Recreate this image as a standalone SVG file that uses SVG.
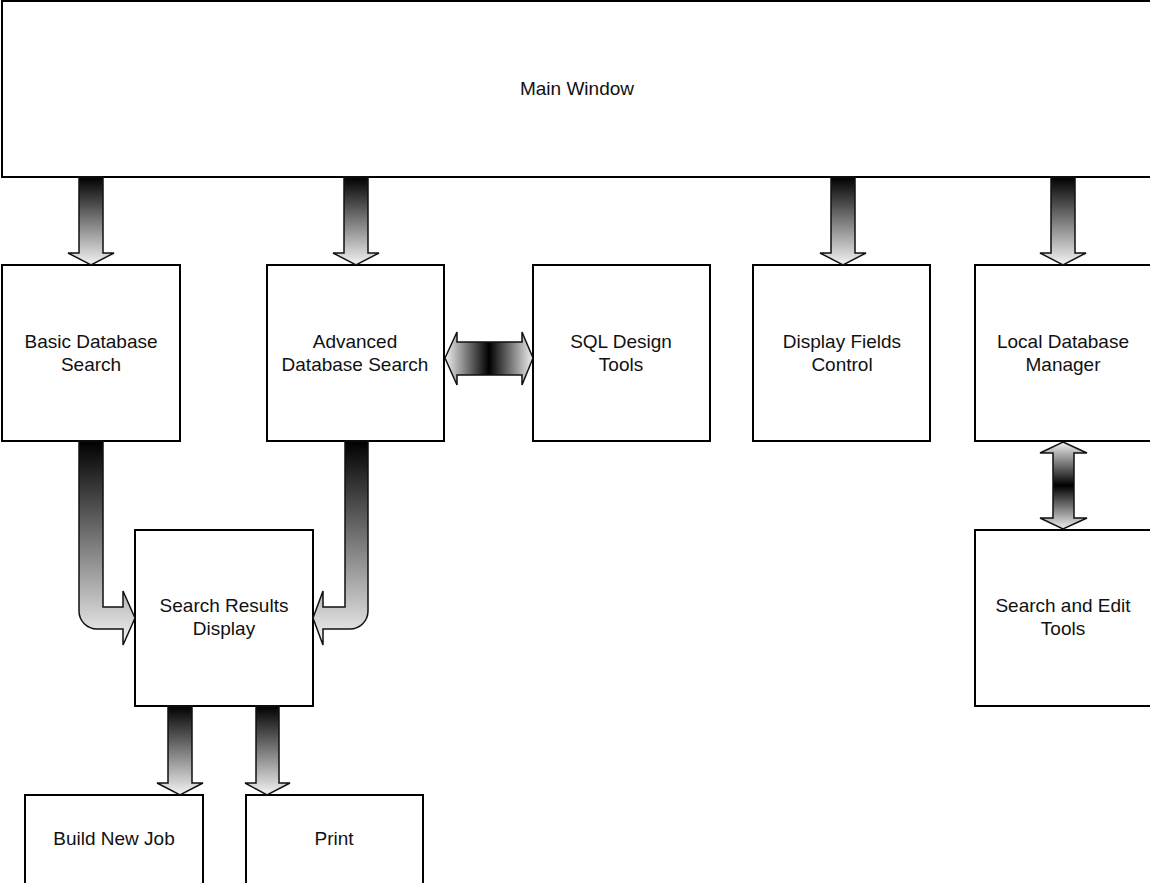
<svg xmlns="http://www.w3.org/2000/svg" width="1150" height="883" viewBox="0 0 1150 883">
<style>
.box{fill:#fff;stroke:#000;stroke-width:2}
.t{font-family:"Liberation Sans",Arial,sans-serif;font-size:19px;fill:#111;text-anchor:middle}
.ad{fill:url(#gDown);stroke:#111;stroke-width:1.5;stroke-linejoin:miter}
.ah{fill:url(#gH);stroke:#111;stroke-width:1.5}
.av{fill:url(#gV);stroke:#111;stroke-width:1.5}
</style>
<defs>
<linearGradient id="gDown" x1="0" y1="0" x2="0" y2="1">
<stop offset="0" stop-color="#000"/>
<stop offset="1" stop-color="#f4f4f4"/>
</linearGradient>
<linearGradient id="gH" x1="0" y1="0" x2="1" y2="0">
<stop offset="0" stop-color="#f0f0f0"/>
<stop offset="0.5" stop-color="#000"/>
<stop offset="1" stop-color="#f0f0f0"/>
</linearGradient>
<linearGradient id="gV" x1="0" y1="0" x2="0" y2="1">
<stop offset="0" stop-color="#f0f0f0"/>
<stop offset="0.5" stop-color="#000"/>
<stop offset="1" stop-color="#f0f0f0"/>
</linearGradient>
</defs>
<rect width="1150" height="883" fill="#fff"/>

<g id="main-window"><rect class="box" x="2" y="1" width="1160" height="176"/><text class="t" x="577" y="95">Main Window</text></g>
<g id="basic-search"><rect class="box" x="2" y="265" width="178" height="176"/><text class="t" x="91" y="348">Basic Database</text><text class="t" x="91" y="371">Search</text></g>
<g id="advanced-search"><rect class="box" x="267" y="265" width="177" height="176"/><text class="t" x="355" y="348">Advanced</text><text class="t" x="355" y="371">Database Search</text></g>
<g id="sql-design"><rect class="box" x="533" y="265" width="177" height="176"/><text class="t" x="621" y="348">SQL Design</text><text class="t" x="621" y="371">Tools</text></g>
<g id="display-fields"><rect class="box" x="753" y="265" width="177" height="176"/><text class="t" x="842" y="348">Display Fields</text><text class="t" x="842" y="371">Control</text></g>
<g id="local-db"><rect class="box" x="975" y="265" width="190" height="176"/><text class="t" x="1063" y="348">Local Database</text><text class="t" x="1063" y="371">Manager</text></g>
<g id="search-edit"><rect class="box" x="975" y="530" width="190" height="176"/><text class="t" x="1063" y="612">Search and Edit</text><text class="t" x="1063" y="635">Tools</text></g>
<g id="search-results"><rect class="box" x="135" y="530" width="178" height="176"/><text class="t" x="224" y="612">Search Results</text><text class="t" x="224" y="635">Display</text></g>
<g id="build-job"><rect class="box" x="25" y="795" width="178" height="100"/><text class="t" x="114" y="845">Build New Job</text></g>
<g id="print"><rect class="box" x="246" y="795" width="177" height="100"/><text class="t" x="334" y="845">Print</text></g>

<g id="connectors">
<path class="ad" d="M79,177 L103,177 L103,253 L114,253 L91,265 L68,253 L79,253 Z"/>
<path class="ad" d="M344,177 L368,177 L368,253 L379,253 L356,265 L333,253 L344,253 Z"/>
<path class="ad" d="M831,177 L855,177 L855,253 L866,253 L843,265 L820,253 L831,253 Z"/>
<path class="ad" d="M1051,177 L1075,177 L1075,253 L1086,253 L1063,265 L1040,253 L1051,253 Z"/>
<path class="ad" d="M168,706 L192,706 L192,783 L203,783 L180,795 L157,783 L168,783 Z"/>
<path class="ad" d="M256,706 L279,706 L279,783 L290,783 L267,795 L245,783 L256,783 Z"/>
<path class="ad" d="M79,441 L103,441 L103,607 L123,607 L123,591 L135,618 L123,645 L123,629 L97,629 A18,18 0 0 1 79,611 Z"/>
<path class="ad" d="M345,441 L368,441 L368,611 A18,18 0 0 1 350,629 L323,629 L323,645 L313,618 L323,591 L323,607 L345,607 Z"/>
<path class="ah" d="M445,358 L457,332 L457,342 L522,342 L522,332 L533,358 L522,385 L522,375 L457,375 L457,385 Z"/>
<path class="av" d="M1063,442 L1087,453 L1074,453 L1074,518 L1087,518 L1063,529 L1040,518 L1053,518 L1053,453 L1040,453 Z"/>
</g>
</svg>
